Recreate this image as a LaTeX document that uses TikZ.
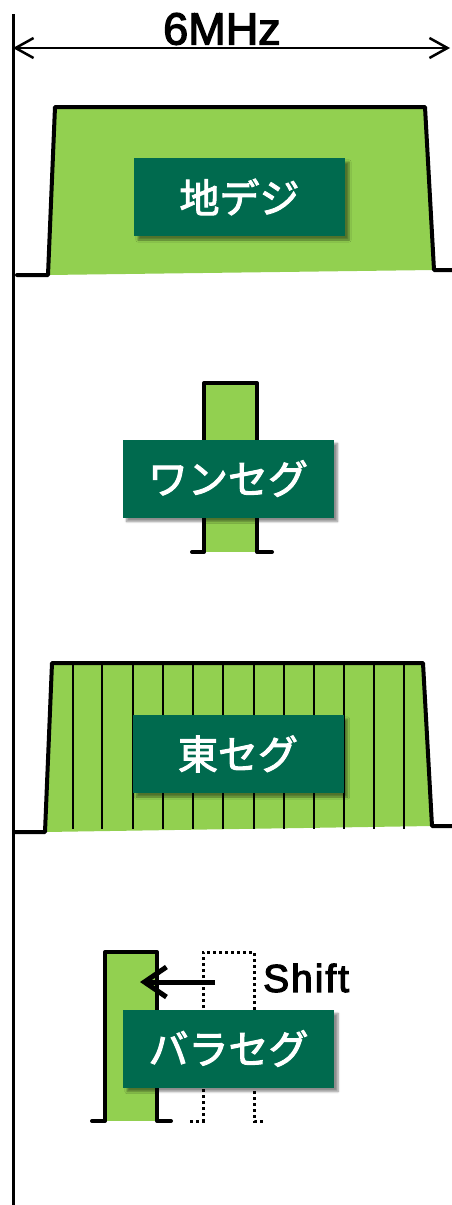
\documentclass[tikz,border=0pt]{standalone}
\usepackage{fontspec}
\setmainfont{Liberation Sans}
\newfontfamily\jp{Noto Sans CJK JP}[FakeBold=2.5]
\newfontfamily\lat{Liberation Sans}[FakeBold=3]
\usetikzlibrary{arrows.meta,shadows.blur}
\definecolor{lgreen}{HTML}{92D050}
\definecolor{dgreen}{RGB}{0,106,78}
\tikzset{
  outline/.style={line width=4pt, line join=round, line cap=round},
  stripe/.style={line width=1.8pt},
  ghost/.style={line width=3pt, dash pattern=on 3pt off 3pt},
  label/.style={fill=dgreen, text=white, minimum width=211pt, minimum height=78pt, inner sep=0pt,
    font=\jp\fontsize{40}{40}\selectfont,
    blur shadow={shadow xshift=4pt, shadow yshift=-4pt, shadow blur steps=6, shadow opacity=45}},
}
\begin{document}
\begin{tikzpicture}[x=1pt,y=-1pt]
\useasboundingbox (0,0) rectangle (452,1205);
% axis and dimension
\draw[line width=3pt] (13,14) -- (13,1205);
\coordinate (dl) at (13,48);
\coordinate (dr) at (450,48);
\draw[line width=2.5pt, {Straight Barb[length=18pt,width=20pt]}-{Straight Barb[length=18pt,width=20pt]}] (dl) -- (dr);
\node (mhz) at (222,29) {\lat\fontsize{45}{45}\selectfont 6MHz};

% block 1
\fill[lgreen] (48,275) -- (55,107) -- (425,107) -- (434,270) -- cycle;
\draw[outline] (17,275) -- (48,275) -- (55,107) -- (425,107) -- (434,270) -- (452,270);
\node[label] (chidegi) at (239.5,197) {地デジ};

% block 2
\fill[lgreen] (204,383) rectangle (257,552);
\draw[outline] (192,552) -- (204,552) -- (204,383) -- (257,383) -- (257,552) -- (272,552);
\node[label] (oneseg) at (228,478.5) {ワンセグ};

% block 3
\fill[lgreen] (45,832) -- (52,663) -- (423,663) -- (432,826) -- cycle;
\foreach \x in {73,102,133,163,193,223,254,284,314,344,374,404}
  \draw[stripe] (\x,664) -- (\x,829);
\draw[outline] (15,832) -- (45,832) -- (52,663) -- (423,663) -- (432,826) -- (452,826);
\node[label] (tabaseg) at (238,754) {東セグ};

% block 4
\draw[ghost] (190,1121) -- (203,1121) -- (203,952) -- (254,952) -- (254,1121) -- (265,1121);
\fill[lgreen] (105,952) rectangle (157,1121);
\draw[outline] (92,1121) -- (105,1121) -- (105,952) -- (157,952) -- (157,1121) -- (171,1121);
\coordinate (sfrom) at (215,982);
\coordinate (sto) at (140,982);
\draw[line width=5pt, -{Straight Barb[length=22pt,width=30pt]}] (sfrom) -- (sto);
\node[anchor=west, inner sep=0pt] (shift) at (263,978) {\lat\addfontfeature{LetterSpace=5}\fontsize{39}{39}\selectfont Shift};
\node[label] (baraseg) at (228.5,1048.5) {バラセグ};
\end{tikzpicture}
\end{document}
